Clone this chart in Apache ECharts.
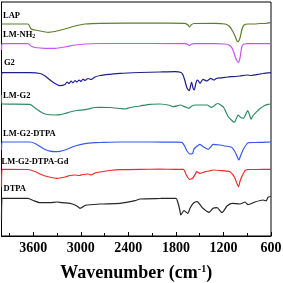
<!DOCTYPE html>
<html>
<head>
<meta charset="utf-8">
<script src="https://cdn.jsdelivr.net/npm/echarts@6/dist/echarts.min.js"></script>
<style>html,body{margin:0;padding:0;background:#fff}#c{width:283px;height:283px}</style>
</head>
<body>
<div id="c"></div>
<script>
// Wavenumber (cm-1) and offset transmittance (a.u.) for each spectrum
var lapWn = [4000,3666,3628,3577,3514,3413,3325,3199,3073,2946,2757,2126,1685,1647,1628,1609,1571,1306,1180,1130,1092,1054,1029,1016,991,965,940,890,802,738,675,600];
var lapT  = [212,212,207,206,205,203.7,204.5,207,210,212,212.7,212.8,212.7,211,209,211,212.5,212.7,212,210,206,200,195,194.3,198,207,211,212,212,212.5,212.5,213.3];

var nh2Wn = [4000,3993,3666,3628,3577,3450,3325,3199,3073,2946,2757,2126,1685,1647,1628,1609,1571,1306,1180,1130,1092,1067,1041,1010,991,978,965,940,890,750,600];
var nh2T  = [186,192.3,192.3,190,188.5,187.7,187.7,189,191,192,192.5,192.5,192.3,191.5,190.3,191.8,192.3,192.3,192,191,188,183,177,173.7,178,185,190,192,192.3,192.3,192.3];

var g2Wn = [4000,3993,3640,3514,3450,3388,3325,3262,3199,3174,3148,3122,3098,3073,3047,3022,2997,2972,2946,2909,2870,2820,2757,2631,2505,2253,2000,1811,1735,1710,1685,1660,1631,1615,1601,1584,1567,1550,1533,1515,1496,1475,1458,1411,1390,1360,1319,1290,1205,1150,1050,991,900,850,738,700,600];
var g2T  = [158,163.3,163.3,162.5,160,156,152.5,150.3,151.5,154,152.5,155,153,155.5,154,156,154.5,157,155.5,157.5,156.5,159,160.5,161.7,162.7,163.5,164,164.3,163.5,161,155,148,145.3,150,154,148,146,152,156,155,152.7,155,156.7,155,156,157.7,156,157.5,158.3,159,159.5,160,161,160.5,162,162.5,163.3];

var lmg2Wn = [4000,3993,3640,3577,3514,3451,3325,3262,3199,3136,3047,2946,2820,2757,2631,2505,2442,2379,2253,2126,2000,1874,1836,1736,1710,1660,1634,1600,1546,1470,1407,1350,1320,1300,1268,1218,1205,1180,1139,1100,1064,1050,1014,990,949,920,895,870,852,830,780,738,680,637,600];
var lmg2T  = [141,132,131.7,128,124.5,122,121,121.3,122.5,124,125.5,126.3,128.5,128.7,128.5,127.5,127,128.5,130,131.7,132,130.5,129.3,131,130,128.5,127.7,130,131,131,131,128.7,130,131.5,132.5,130,129.3,126,119.3,116,113.7,115,121,119,117.7,121.5,125.3,121,116.7,120,124.3,127.5,130.5,131.7,132];

var dtpaLWn = [4000,3993,3640,3577,3514,3451,3388,3325,3262,3199,3136,3073,2946,2820,2757,2505,2126,1811,1726,1685,1660,1622,1588,1571,1496,1450,1391,1360,1331,1243,1180,1097,1060,1035,1005,985,953,906,880,800,700,600];
var dtpaLT  = [86,94,94,92.5,89.5,86.5,84.8,84.3,84.7,86,88,90,92.3,93.3,93.5,94,94,93.8,93.7,89.3,85,82,82.7,87,91.7,89,86.7,89,91.7,91,90,88.7,85,81,76,80,86,92,93.3,93.5,93.7,94];

var gdWn = [4000,3993,3666,3577,3514,3450,3300,3262,3199,3136,3073,3022,2972,2909,2870,2820,2757,2631,2505,2253,2000,1811,1706,1668,1631,1588,1555,1537,1496,1450,1432,1380,1331,1250,1117,1070,1054,1010,990,972,928,880,780,637,600];
var gdT  = [49,66.7,66.5,64.5,62,60,57.7,58,59,60.5,61,60.5,61.5,62,61,63,64,65.5,66.3,66.7,66.8,66.7,66.7,61,56.7,57.7,62,64.3,62.7,63.5,64.3,65,66,65.5,64.3,60,57.7,49.3,55,58.7,65.3,66.5,66.5,66.7,66.7];

var dtpaWn = [4000,3993,3666,3600,3514,3388,3300,3237,3136,3073,3022,3010,2946,2921,2757,2505,2316,2253,2000,1874,1798,1773,1748,1739,1697,1651,1620,1580,1533,1458,1382,1331,1281,1218,1155,1092,991,928,890,802,700,662,637,600];
var dtpaT  = [16,37.7,37.7,35.5,33.3,33.3,34,33.3,32.7,31,28.5,27.7,30.5,31,32,32.7,35.3,37,37.5,37.7,37.7,33,25,21,25.3,22.7,28,32.7,34.3,27.7,23.7,27.7,28.3,23.3,30,32.7,32,34,31.3,34,36,35,38.7,39.5];

var seriesNames = ['LAP','LM-NH2','G2','LM-G2','LM-G2-DTPA','LM-G2-DTPA-Gd','DTPA'];
var seriesColors = ['#5b7f2a','#c655f2','#1f1f8c','#2e8b60','#3a58f2','#ee2a2a','#262626'];
var tickLabels = [600,1200,1800,2400,3000,3600];

var wnSets = [lapWn,nh2Wn,g2Wn,lmg2Wn,dtpaLWn,gdWn,dtpaWn];
var tSets  = [lapT,nh2T,g2T,lmg2T,dtpaLT,gdT,dtpaT];

var FONT = '"Liberation Serif","Times New Roman",serif';

var series = seriesNames.map(function (n, i) {
  return {
    name: n, type: 'line', showSymbol: false, smooth: 0.2,
    lineStyle: {color: seriesColors[i], width: 1.2},
    itemStyle: {color: seriesColors[i]},
    animation: false,
    data: wnSets[i].map(function (w, k) { return [w, tSets[i][k]]; })
  };
});

var labelTop = [15.5, 34.7, 62.8, 96, 133.7, 162, 189];
var labelLeft = [3, 3, 4, 3, 3, 1.5, 3.5];
var labelText = ['LAP','LM-NH{s|2}','G2','LM-G2','LM-G2-DTPA','LM-G2-DTPA-Gd','DTPA'];

var graphics = labelText.map(function (t, i) {
  return {
    type: 'text', left: labelLeft[i], top: labelTop[i] - 4.5, z: 100,
    style: {
      text: t, fill: '#000', font: 'bold 8.5px ' + FONT,
      rich: { s: { fontSize: 6, fontWeight: 'bold', fontFamily: FONT, fill: '#000', verticalAlign: 'bottom', padding: [4, 0, 0, 0] } }
    }
  };
});

var chart = echarts.init(document.getElementById('c'), null, {renderer: 'canvas'});
chart.setOption({
  animation: false,
  backgroundColor: '#fff',
  grid: {left: 1.5, right: 12, top: 2, bottom: 47, show: true, borderColor: '#000', borderWidth: 1, outerBoundsMode: 'none', containLabel: false},
  xAxis: [{
    type: 'value', min: 600, max: 4000, interval: 600, inverse: true, position: 'bottom',
    axisLine: {show: true, lineStyle: {color: '#000', width: 1}},
    axisTick: {show: true, inside: true, length: 4, lineStyle: {color: '#000'}},
    splitLine: {show: false},
    axisLabel: {
      show: true, margin: 5, color: '#000', fontFamily: FONT, fontWeight: 'bold', fontSize: 14,
      formatter: function (v) { return tickLabels.indexOf(v) >= 0 ? String(v) : ''; },
      showMinLabel: true, showMaxLabel: false
    },
    name: 'Wavenumber (cm{sup|-1})', nameLocation: 'middle', nameGap: 28,
    nameTextStyle: {
      color: '#000', fontFamily: FONT, fontWeight: 'bold', fontSize: 18,
      rich: { sup: { fontSize: 10, fontWeight: 'bold', fontFamily: FONT, color: '#000', verticalAlign: 'top', lineHeight: 10, padding: [0, 0, 8, 0] } }
    }
  }, {
    type: 'value', min: 600, max: 4000, interval: 300, inverse: true, position: 'bottom', offset: 0,
    axisLine: {show: false}, axisLabel: {show: false}, splitLine: {show: false},
    axisTick: {show: true, inside: true, length: 3, lineStyle: {color: '#000'}}
  }],
  yAxis: {
    type: 'value', min: 0, max: 234, show: true,
    axisLine: {show: true, lineStyle: {color: '#000'}}, axisTick: {show: false}, axisLabel: {show: false}, splitLine: {show: false}
  },
  series: series,
  graphic: graphics
});
</script>
</body>
</html>
